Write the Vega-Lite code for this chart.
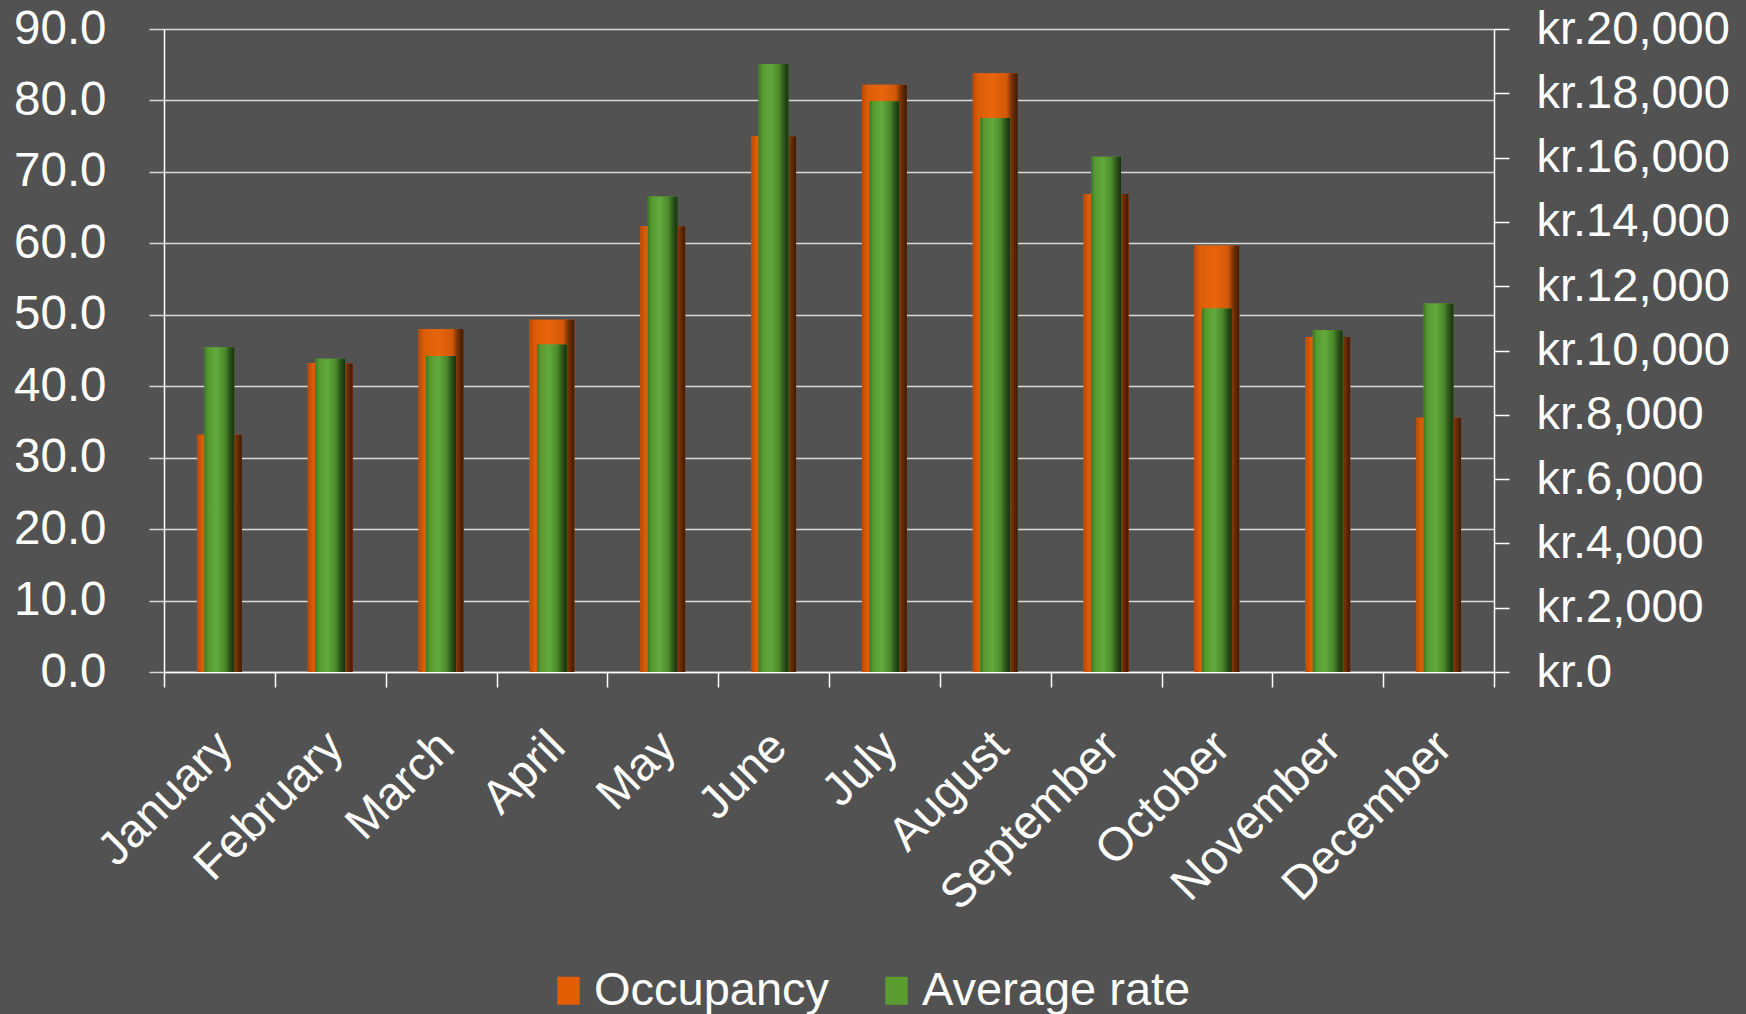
{
  "$schema": "https://vega.github.io/schema/vega-lite/v6.json",
  "width": 1330,
  "height": 643,
  "autosize": {"type": "none"},
  "padding": {"left": 164, "top": 29, "right": 252, "bottom": 342},
  "background": "#525252",
  "config": {
    "view": {"stroke": null},
    "font": "Liberation Sans",
    "axis": {"labelFont": "Liberation Sans", "titleFont": "Liberation Sans"},
    "legend": {"labelFont": "Liberation Sans"}
  },
  "data": {
    "values": [
      {"month": "January", "occupancy": 33.2, "rate": 10100},
      {"month": "February", "occupancy": 43.2, "rate": 9740},
      {"month": "March", "occupancy": 48.0, "rate": 9830},
      {"month": "April", "occupancy": 49.3, "rate": 10190},
      {"month": "May", "occupancy": 62.4, "rate": 14790},
      {"month": "June", "occupancy": 75.0, "rate": 18910},
      {"month": "July", "occupancy": 82.2, "rate": 17750},
      {"month": "August", "occupancy": 83.8, "rate": 17230},
      {"month": "September", "occupancy": 66.9, "rate": 16030},
      {"month": "October", "occupancy": 59.7, "rate": 11310},
      {"month": "November", "occupancy": 46.9, "rate": 10630},
      {"month": "December", "occupancy": 35.6, "rate": 11460}
    ]
  },
  "encoding": {
    "x": {
      "field": "month",
      "type": "nominal",
      "sort": null,
      "scale": {"paddingInner": 0, "paddingOuter": 0},
      "axis": {
        "title": null,
        "labelAngle": -45,
        "labelFontSize": 47,
        "labelColor": "#ffffff",
        "labelLimit": 0,
        "labelOverlap": false,
        "labelPadding": 36,
        "labelOffset": -11,
        "tickBand": "extent",
        "tickSize": 15,
        "tickColor": "#ffffff",
        "tickWidth": 1.5,
        "domainColor": "#ffffff",
        "domainWidth": 1.5,
        "grid": false
      }
    }
  },
  "layer": [
    {
      "encoding": {
        "y": {
          "field": "occupancy",
          "type": "quantitative",
          "scale": {"domain": [0, 90], "nice": false},
          "axis": {
            "title": null,
            "values": [0, 10, 20, 30, 40, 50, 60, 70, 80, 90],
            "format": ".1f",
            "labelFontSize": 47.5,
            "labelColor": "#ffffff",
            "labelLimit": 0,
            "labelPadding": 43,
            "tickSize": 15,
            "tickColor": "#d9d9d9",
            "tickWidth": 1.5,
            "domainColor": "#ffffff",
            "domainWidth": 1.5,
            "grid": true,
            "gridColor": "#d9d9d9",
            "gridWidth": 1.5
          }
        }
      },
      "layer": [
        {
          "mark": {"type": "bar", "width": {"band": 0.406}},
          "encoding": {
            "color": {
              "datum": "Occupancy",
              "type": "nominal",
              "scale": {"domain": ["Occupancy", "Average rate"], "range": ["#e35d05", "#5a9e32"]},
              "legend": {
                "title": null,
                "orient": "none",
                "direction": "horizontal",
                "legendX": 381,
                "legendY": 938,
                "labelFontSize": 47,
                "labelColor": "#ffffff",
                "labelLimit": 0,
                "labelOffset": 2,
                "columnPadding": 43,
                "symbolType": "M-0.8,-1H0.8V1H-0.8Z",
                "symbolSize": 784,
                "symbolStrokeWidth": 0,
                "symbolOpacity": 1
              }
            }
          }
        },
        {
          "mark": {
            "type": "bar",
            "width": {"band": 0.406},
            "fill": {
              "gradient": "linear", "x1": 0, "y1": 0, "x2": 1, "y2": 0,
              "stops": [
                {"offset": 0, "color": "#b84a06"},
                {"offset": 0.12, "color": "#dc5d08"},
                {"offset": 0.45, "color": "#e8650c"},
                {"offset": 0.75, "color": "#d25808"},
                {"offset": 0.86, "color": "#7a3306"},
                {"offset": 1, "color": "#3c1a05"}
              ]
            }
          },
          "encoding": {}
        }
      ]
    },
    {
      "encoding": {
        "y": {
          "field": "rate",
          "type": "quantitative",
          "scale": {"domain": [0, 20000], "nice": false},
          "axis": {
            "orient": "right",
            "title": null,
            "values": [0, 2000, 4000, 6000, 8000, 10000, 12000, 14000, 16000, 18000, 20000],
            "labelExpr": "'kr.' + format(datum.value, ',')",
            "labelFontSize": 47,
            "labelColor": "#ffffff",
            "labelLimit": 0,
            "labelPadding": 27,
            "tickSize": 15,
            "tickColor": "#ffffff",
            "tickWidth": 1.5,
            "domainColor": "#ffffff",
            "domainWidth": 1.5,
            "grid": false
          }
        }
      },
      "layer": [
        {
          "mark": {"type": "bar", "width": {"band": 0.27}},
          "encoding": {
            "color": {"datum": "Average rate", "type": "nominal"}
          }
        },
        {
          "mark": {
            "type": "bar",
            "width": {"band": 0.27},
            "fill": {
              "gradient": "linear", "x1": 0, "y1": 0, "x2": 1, "y2": 0,
              "stops": [
                {"offset": 0, "color": "#3d7524"},
                {"offset": 0.12, "color": "#55992f"},
                {"offset": 0.4, "color": "#62aa3d"},
                {"offset": 0.68, "color": "#4c8a2b"},
                {"offset": 0.84, "color": "#2c561b"},
                {"offset": 1, "color": "#18300e"}
              ]
            }
          },
          "encoding": {}
        }
      ]
    }
  ],
  "resolve": {"scale": {"y": "independent"}}
}
